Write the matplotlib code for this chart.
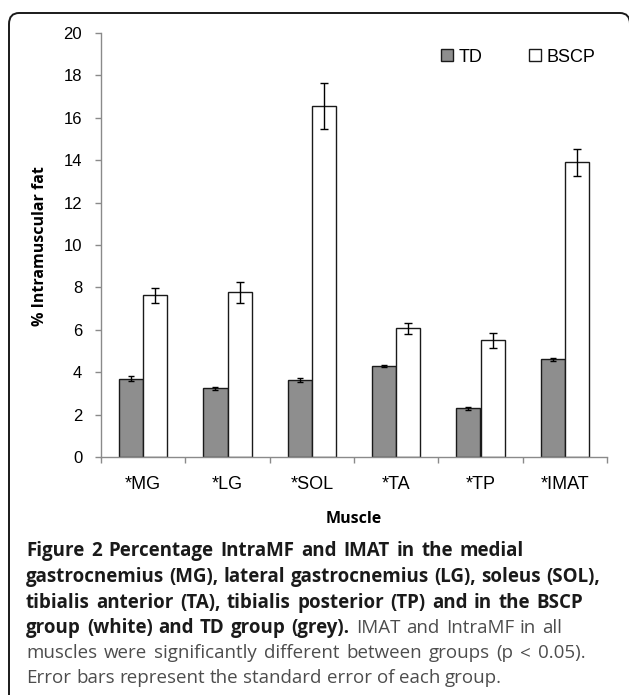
import matplotlib.pyplot as plt
import matplotlib.patches as patches
import numpy as np

# data
muscles = ['*MG', '*LG', '*SOL', '*TA', '*TP', '*IMAT']
td_mean = [3.70, 3.25, 3.65, 4.30, 2.30, 4.60]
td_se = [0.12, 0.07, 0.10, 0.05, 0.08, 0.08]
bscp_mean = [7.62, 7.76, 16.55, 6.07, 5.50, 13.90]
bscp_se = [0.35, 0.48, 1.10, 0.26, 0.36, 0.65]

W, H = 629, 695
TICK_FONT = ['Liberation Sans Narrow', 'Liberation Sans', 'DejaVu Sans']
CAP_FONT = ['Open Sans', 'DejaVu Sans']


def fx(px):
    return px / W


def fy(py):
    return 1 - py / H


fig = plt.figure(figsize=(W / 100, H / 100), dpi=100)
fig.patch.set_facecolor('white')

# rounded frame around the whole figure
frame = patches.FancyBboxPatch((fx(9), fy(730)), fx(630) - fx(9), fy(13) - fy(730),
                               boxstyle='round,pad=0,rounding_size=0.016',
                               transform=fig.transFigure, fill=False,
                               edgecolor='#1a1a1a', lw=1.4)
fig.patches.append(frame)

ax = fig.add_axes([fx(101), fy(457), fx(607) - fx(101), fy(33) - fy(457)])

x = np.arange(len(muscles))
bw = 0.285
ax.bar(x - bw / 2, td_mean, bw, color='#8e8e8e', edgecolor='#1a1a1a', lw=1.0,
       yerr=td_se, capsize=2.5, error_kw={'elinewidth': 1, 'capthick': 1}, label='TD')
ax.bar(x + bw / 2, bscp_mean, bw, color='white', edgecolor='#1a1a1a', lw=1.0,
       yerr=bscp_se, capsize=3, error_kw={'elinewidth': 1, 'capthick': 1}, label='BSCP')

ax.set_xlim(-0.5, len(muscles) - 0.5)
ax.set_ylim(0, 20)
ax.set_yticks(range(0, 21, 2))
ax.set_xticks(x)
ax.set_xticklabels(muscles, fontfamily=TICK_FONT, fontsize=13)
ax.set_xticks(np.arange(-0.5, len(muscles), 1), minor=True)
for lab in ax.get_yticklabels():
    lab.set_fontfamily(TICK_FONT)
    lab.set_fontsize(12)

for s in ['top', 'right']:
    ax.spines[s].set_visible(False)
for s in ['left', 'bottom']:
    ax.spines[s].set_color('#8a8a8a')
    ax.spines[s].set_linewidth(1.0)

ax.tick_params(axis='y', length=4.5, width=1, color='#8a8a8a', pad=9)
ax.tick_params(axis='x', which='major', length=0, pad=14)
ax.tick_params(axis='x', which='minor', length=4, width=1, color='#8a8a8a', direction='out')

fig.text(fx(40), fy(246), '% Intramuscular fat', rotation=90, ha='center', va='center',
         fontsize=11.5, fontweight='bold', fontfamily=CAP_FONT)
fig.text(fx(354), fy(519), 'Muscle', ha='center', va='center',
         fontsize=11.5, fontweight='bold', fontfamily=CAP_FONT)

ax.legend(loc='center left', bbox_to_anchor=((441 - 101) / 506, (457 - 57) / 424),
          bbox_transform=ax.transAxes,
          ncol=2, frameon=False, handlelength=0.65, handleheight=0.65, handletextpad=0.3,
          columnspacing=2.6, prop={'family': TICK_FONT, 'size': 13},
          borderaxespad=0, borderpad=0)

# caption: (text, bold) pieces per line, and where each line ends in the figure
caption = [
    [('Figure 2 Percentage IntraMF and IMAT in the medial', True)],
    [('gastrocnemius (MG), lateral gastrocnemius (LG), soleus (SOL),', True)],
    [('tibialis anterior (TA), tibialis posterior (TP) and in the BSCP', True)],
    [('group (white) and TD group (grey).', True), ('IMAT and IntraMF in all', False)],
    [('muscles were significantly different between groups (p < 0.05).', False)],
    [('Error bars represent the standard error of each group.', False)],
]
line_end = [580, 600, 583, 562, 587, None]
ys = [551, 577, 603, 628, 653, 678]
x0 = 26

renderer = fig.canvas.get_renderer()


def cap_text(s, bold, y, size):
    return fig.text(fx(x0), fy(y), s, ha='left', va='center', fontsize=size,
                    fontweight='bold' if bold else 'normal', fontfamily=CAP_FONT,
                    color='#1a1a1a' if bold else '#4d4d4d')


def width(t):
    return t.get_window_extent(renderer).width


# size the font from the second line
probe = cap_text(caption[1][0][0], True, ys[1], 15)
cap_size = 15 * (line_end[1] - x0) / width(probe)
probe.remove()

# normal word space at that size
p1 = cap_text('a a', True, 0, cap_size)
p2 = cap_text('a', True, 0, cap_size)
space = width(p1) - 2 * width(p2)
p1.remove()
p2.remove()

# words set one by one, spaces stretched a little towards the line end
for pieces, y, end in zip(caption, ys, line_end):
    words = []
    for s, bold in pieces:
        words += [(w, bold) for w in s.split(' ')]
    texts = [cap_text(w, bold, y, cap_size) for w, bold in words]
    widths = [width(t) for t in texts]
    gap = space
    if end is not None:
        gap = min(1.4 * space, max(space, (end - x0 - sum(widths)) / (len(words) - 1)))
    xp = x0
    for t, w in zip(texts, widths):
        t.set_x(fx(xp))
        xp += w + gap

fig.savefig('out.png', dpi=100)
